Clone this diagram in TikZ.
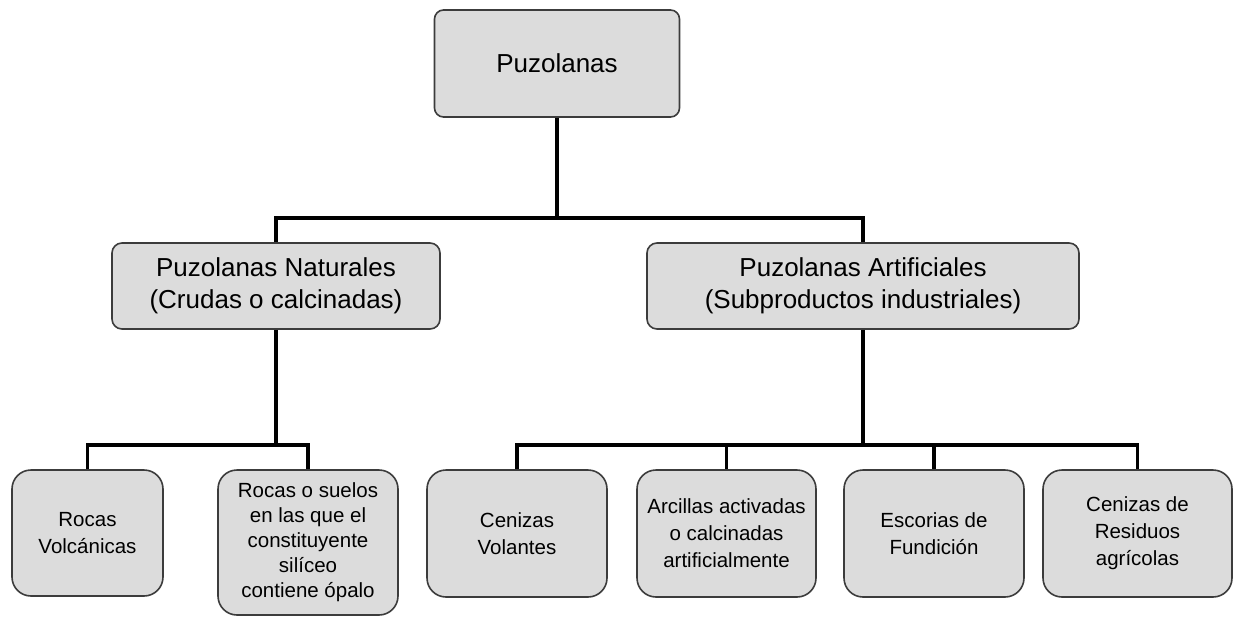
\documentclass[tikz,border=0pt]{standalone}
\usepackage{fontspec}
\setmainfont{Liberation Sans}
\definecolor{boxgray}{RGB}{220,220,220}
\definecolor{edgegray}{RGB}{60,60,60}
\begin{document}
\begin{tikzpicture}[x=1pt,y=-1pt,
  box/.style={draw=edgegray, line width=1.6pt, fill=boxgray, align=center, inner sep=0pt},
  topbox/.style={box, rounded corners=9pt, font=\fontsize{26}{32}\selectfont},
  midbox/.style={box, rounded corners=10pt, font=\fontsize{26}{32}\selectfont},
  botbox/.style={box, rounded corners=19pt, font=\fontsize{20.5}{27}\selectfont},
  conn/.style={draw=black, line width=3.6pt}]
\useasboundingbox (0,0) rectangle (1233,618);

\node[topbox, minimum width=245pt, minimum height=107pt] (top) at (557,63.5) {Puzolanas};

\node[midbox, minimum width=328pt, minimum height=86pt] (nat) at (276,286) {Puzolanas Naturales\\(Crudas o calcinadas)};
\node[midbox, minimum width=432pt, minimum height=86pt] (art) at (863,286) {Puzolanas Artificiales\\(Subproductos industriales)};

\node[botbox, minimum width=151pt, minimum height=126pt] (b1) at (87.5,533) {Rocas\\Volcánicas};
\node[botbox, minimum width=180pt, minimum height=145pt, font=\fontsize{20.5}{25}\selectfont] (b2) at (308,542.5) {Rocas o suelos\\en las que el\\constituyente\\silíceo\\contiene ópalo};
\node[botbox, minimum width=180pt, minimum height=127pt] (b3) at (517,533.5) {Cenizas\\Volantes};
\node[botbox, minimum width=179pt, minimum height=127pt] (b4) at (726.5,533.5) {Arcillas activadas\\o calcinadas\\artificialmente};
\node[botbox, minimum width=180pt, minimum height=127pt] (b5) at (934,533.5) {Escorias de\\Fundición};
\node[botbox, minimum width=189pt, minimum height=127pt] (b6) at (1137.5,533.5) {Cenizas de\\Residuos\\agrícolas};

\coordinate (bus1) at (557,218);
\coordinate (bus2) at (557,445);

\draw[conn] (top.south) -- (top.south |- bus1);
\draw[conn] (nat.north) -- (nat.north |- bus1) -- (art.north |- bus1) -- (art.north);

\draw[conn] (nat.south) -- (nat.south |- bus2);
\draw[conn] (b1.north) -- (b1.north |- bus2) -- (b2.north |- bus2) -- (b2.north);

\draw[conn] (art.south) -- (art.south |- bus2);
\draw[conn] (b3.north) -- (b3.north |- bus2) -- (b6.north |- bus2) -- (b6.north);
\draw[conn] (b4.north |- bus2) -- (b4.north);
\draw[conn] (b5.north |- bus2) -- (b5.north);
\end{tikzpicture}
\end{document}
